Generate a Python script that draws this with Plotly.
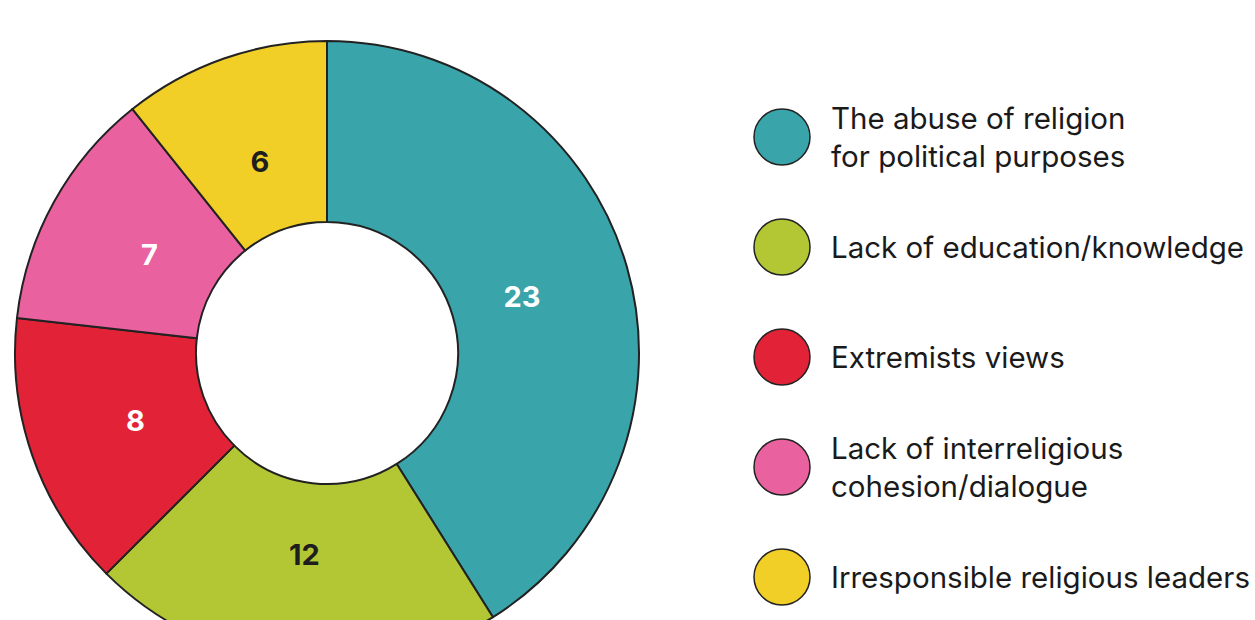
import plotly.graph_objects as go

# ---- data ----
categories = [
    "The abuse of religion<br>for political purposes",
    "Lack of education/knowledge",
    "Extremists views",
    "Lack of interreligious<br>cohesion/dialogue",
    "Irresponsible religious leaders",
]
values = [23, 12, 8, 7, 6]
colors = ["#39A4AA", "#B3C735", "#E22237", "#EA61A0", "#F2CF27"]
label_colors = ["#FFFFFF", "#1E1E1E", "#FFFFFF", "#FFFFFF", "#1E1E1E"]

# ---- layout geometry (pixels) ----
W, H = 1255, 666
cx, cy, R = 327, 353, 312          # donut centre / outer radius
hole_frac = 0.42
R_lab, hole_lab = 250, 0.624       # invisible ring that carries the value labels
leg_x, leg_y0, leg_step = 782, 137, 110
text_x = 829
outline = "#222222"


def dom(r):
    return dict(x=[(cx - r) / W, (cx + r) / W],
                y=[(H - (cy + r)) / H, (H - (cy - r)) / H])


fig = go.Figure()

# coloured donut
fig.add_trace(go.Pie(
    values=values,
    labels=categories,
    sort=False,
    direction="clockwise",
    rotation=0,
    hole=hole_frac,
    marker=dict(colors=colors, line=dict(color=outline, width=2)),
    textinfo="none",
    domain=dom(R),
    showlegend=False,
    hoverinfo="label+value",
))

# transparent ring used only to position the value labels
fig.add_trace(go.Pie(
    values=values,
    labels=categories,
    sort=False,
    direction="clockwise",
    rotation=0,
    hole=hole_lab,
    marker=dict(colors=["rgba(0,0,0,0)"] * len(values),
                line=dict(color="rgba(0,0,0,0)", width=0)),
    textinfo="value",
    textposition="inside",
    insidetextorientation="horizontal",
    textfont=dict(family="Inter", size=29, color=label_colors, weight="bold"),
    domain=dom(R_lab),
    showlegend=False,
    hoverinfo="skip",
))

leg_ys = [leg_y0 + leg_step * i for i in range(len(categories))]
fig.add_trace(go.Scatter(
    x=[leg_x] * len(categories),
    y=leg_ys,
    mode="markers",
    marker=dict(size=56, color=colors, line=dict(color=outline, width=1.5)),
    showlegend=False,
    hoverinfo="skip",
))

for cat, y in zip(categories, leg_ys):
    fig.add_annotation(
        x=text_x, y=y, xref="x", yref="y",
        text=cat, showarrow=False,
        xanchor="left", yanchor="middle", align="left",
        font=dict(family="Inter", size=29.5, color="#1A1A1A"),
    )

fig.update_layout(
    width=W, height=H,
    margin=dict(l=0, r=0, t=0, b=0),
    paper_bgcolor="white",
    plot_bgcolor="rgba(0,0,0,0)",
    xaxis=dict(range=[0, W], visible=False, fixedrange=True),
    yaxis=dict(range=[H, 0], visible=False, fixedrange=True),
)

fig.write_html(
    "out.html",
    config={"displayModeBar": False},
    post_script="document.body.style.margin='0';document.body.style.overflow='hidden';",
)
